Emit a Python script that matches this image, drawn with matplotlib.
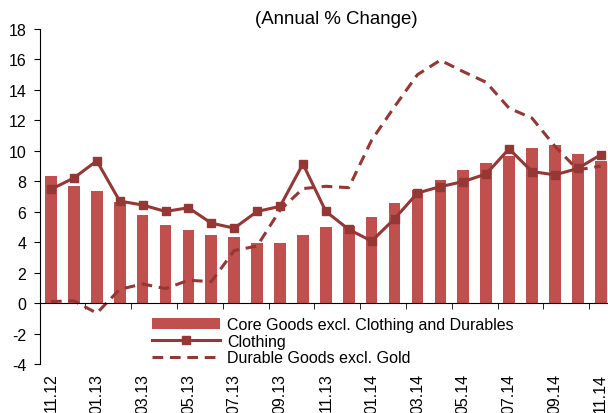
import matplotlib.pyplot as plt
import numpy as np

plt.rcParams['font.family'] = ['Liberation Sans', 'DejaVu Sans']
plt.rcParams['axes.unicode_minus'] = False

# monthly, 11.12 .. 11.14
months = ['11.12', '12.12', '01.13', '02.13', '03.13', '04.13', '05.13', '06.13',
          '07.13', '08.13', '09.13', '10.13', '11.13', '12.13', '01.14', '02.14',
          '03.14', '04.14', '05.14', '06.14', '07.14', '08.14', '09.14', '10.14', '11.14']

core_goods = [8.37, 7.71, 7.36, 6.65, 5.80, 5.14, 4.81, 4.46, 4.35, 3.93, 3.93, 4.46,
              5.01, 5.05, 5.65, 6.59, 7.41, 8.11, 8.77, 9.23, 9.67, 10.2, 10.4, 9.78, 9.32]
clothing = [7.47, 8.22, 9.34, 6.70, 6.44, 6.02, 6.26, 5.25, 4.92, 6.02, 6.35, 9.14,
            6.02, 4.84, 4.07, 5.54, 7.23, 7.65, 7.98, 8.48, 10.13, 8.64, 8.42, 8.84, 9.74]
durables = [0.10, 0.15, -0.66, 0.90, 1.26, 0.95, 1.50, 1.41, 3.45, 3.75, 6.10, 7.52,
            7.67, 7.58, 10.7, 12.9, 15.0, 15.95, 15.2, 14.5, 12.8, 12.15, 10.3, 8.75, 9.0]

bar_color = '#C0504D'
line_color = '#953735'

x = np.arange(len(months))

fig = plt.figure(figsize=(6.08, 4.14), dpi=100)
ax = fig.add_axes([40/608, 1 - 365/414, 568/608, (365 - 30)/414])

bars = ax.bar(x, core_goods, width=0.51, color=bar_color,
              label='Core Goods excl. Clothing and Durables')
l1, = ax.plot(x, clothing, color=line_color, lw=2.2, marker='s', markersize=5.5,
              label='Clothing')
l2, = ax.plot(x, durables, color=line_color, lw=2.2, ls=(0, (3.5, 2.2)),
              label='Durable Goods excl. Gold')

ax.set_xlim(-0.48, 24.32)
ax.set_ylim(-4, 18)
ax.set_yticks(np.arange(-4, 19, 2))

ax.spines['top'].set_visible(False)
ax.spines['right'].set_visible(False)
ax.spines['bottom'].set_position(('data', 0))

ax.set_xticks(x[::2])
ax.set_xticklabels(months[::2])
ax.set_xticks(np.arange(1.5, 24, 2), minor=True)
ax.tick_params(axis='x', which='major', length=0, pad=50, labelrotation=90,
               labelsize=11.5)
ax.tick_params(axis='x', which='minor', length=4, direction='out')
ax.tick_params(axis='y', length=4.3, pad=5.5, labelsize=11.5)
for lab in ax.get_xticklabels():
    lab.set_verticalalignment('top')

fig.text(336.5/608, 1 - 20/414, '(Annual % Change)', ha='center', va='center',
         fontsize=13.4)

ax.legend(handles=[bars, l1, l2], loc='upper left',
          bbox_to_anchor=(152/608, 1 - 318/414),
          bbox_transform=fig.transFigure, frameon=False, fontsize=11.5,
          handlelength=4.25, handletextpad=0.45, labelspacing=0.1,
          borderpad=0, borderaxespad=0)

fig.savefig('out.png', dpi=100)
